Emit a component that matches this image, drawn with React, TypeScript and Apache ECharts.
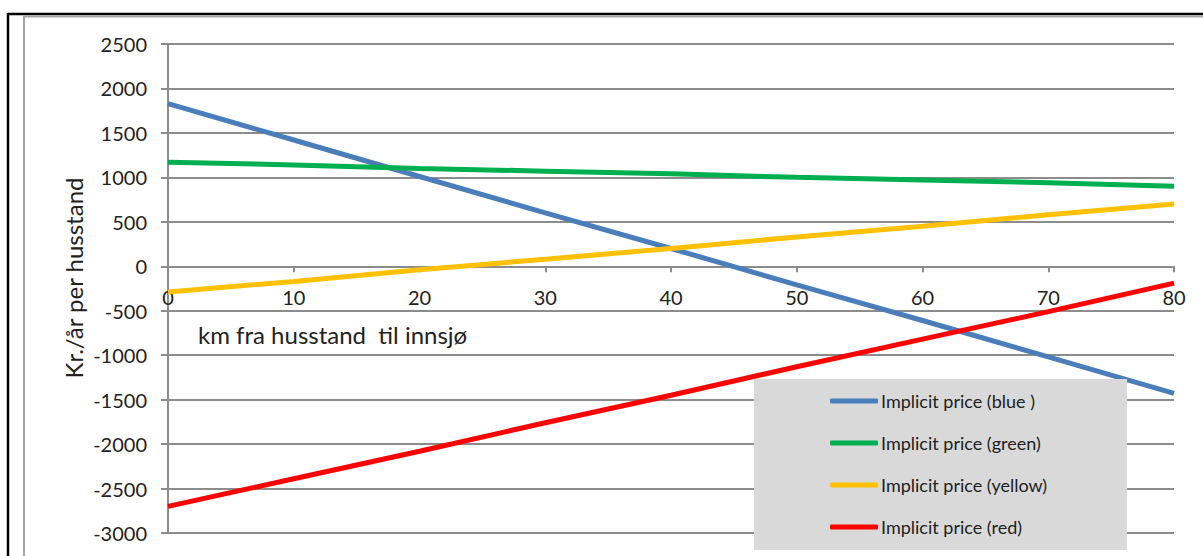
import React, { useEffect, useRef } from "react";
import * as echarts from "echarts";

const km = [0, 10, 20, 30, 40, 50, 60, 70, 80];
const blue = [1830, 1420, 1010, 600, 200, -210, -610, -1020, -1430];
const green = [1170, 1140, 1100, 1070, 1040, 1000, 970, 940, 900];
const yellow = [-290, -170, -40, 80, 200, 330, 450, 580, 700];
const red = [-2700, -2390, -2080, -1760, -1450, -1130, -820, -510, -190];

const seriesNames = [
  "Implicit price (blue )",
  "Implicit price (green)",
  "Implicit price (yellow)",
  "Implicit price (red)",
];
const seriesColors = ["#4a7ebb", "#00b050", "#ffc000", "#ff0000"];
const seriesValues = [blue, green, yellow, red];

const xTitle = "km fra husstand  til innsjø";
const yTitle = "Kr./år per husstand";

const FONT = "Lato, 'Open Sans', sans-serif";
const GRID = "#8c8c8c";

export default function App() {
  const ref = useRef<HTMLDivElement>(null);
  useEffect(() => {
    if (!ref.current) return;
    const chart = echarts.init(ref.current, undefined, { renderer: "svg" });
    const top = 44;
    const bottom = 23;
    const plotH = 556 - top - bottom;
    const zeroOffset = -(plotH * 3000) / 5500;
    chart.setOption({
      animation: false,
      backgroundColor: "#ffffff",
      textStyle: { fontFamily: FONT },
      grid: {
        left: 168,
        right: 29,
        top,
        bottom,
        containLabel: false,
        outerBoundsMode: "none",
      },
      xAxis: {
        type: "value",
        min: 0,
        max: 80,
        interval: 10,
        offset: zeroOffset,
        axisLine: { onZero: false, lineStyle: { color: GRID, width: 2 } },
        axisTick: { show: true, length: 6, lineStyle: { color: GRID, width: 2 } },
        axisLabel: { color: "#222", fontSize: 20, margin: 21, fontFamily: FONT },
        splitLine: { show: false },
      },
      yAxis: {
        type: "value",
        min: -3000,
        max: 2500,
        interval: 500,
        axisLine: { show: true, lineStyle: { color: GRID, width: 2 } },
        axisTick: { show: true, length: 7, lineStyle: { color: GRID, width: 2 } },
        axisLabel: {
          color: "#222",
          fontSize: 20,
          margin: 21,
          fontFamily: FONT,
          formatter: (v: number) => String(v),
        },
        splitLine: { show: true, lineStyle: { color: GRID, width: 2 } },
      },
      legend: {
        orient: "vertical",
        left: 830,
        top: 391,
        z: 20,
        padding: 0,
        itemWidth: 48,
        itemHeight: 5,
        itemGap: 22,
        icon: "roundRect",
        textStyle: { color: "#222", fontSize: 18, lineHeight: 20, fontFamily: FONT, padding: [0, 0, 0, -2] },
        data: seriesNames,
      },
      graphic: [
        { type: "line", shape: { x1: 8, y1: 14, x2: 1203, y2: 14 }, style: { stroke: "#000", lineWidth: 2.5 }, z: 30 },
        { type: "line", shape: { x1: 8, y1: 13, x2: 8, y2: 556 }, style: { stroke: "#000", lineWidth: 2.5 }, z: 30 },
        { type: "line", shape: { x1: 24, y1: 16.5, x2: 1203, y2: 16.5 }, style: { stroke: "#a6a6a6", lineWidth: 2 }, z: 30 },
        { type: "line", shape: { x1: 24, y1: 16, x2: 24, y2: 556 }, style: { stroke: "#a6a6a6", lineWidth: 2 }, z: 30 },
        { type: "rect", shape: { x: 754, y: 379, width: 373, height: 171 }, style: { fill: "#d9d9d9" }, z: 10 },
        {
          type: "text",
          x: 198,
          y: 334,
          style: { text: xTitle, fill: "#222", fontSize: 24, fontFamily: FONT, align: "left", verticalAlign: "middle" },
          z: 12,
        },
        {
          type: "text",
          x: 73,
          y: 278,
          rotation: Math.PI / 2,
          style: { text: yTitle, fill: "#222", fontSize: 24, fontFamily: FONT, align: "center", verticalAlign: "middle" },
          z: 12,
        },
      ],
      series: seriesValues.map((vals, i) => ({
        name: seriesNames[i],
        type: "line",
        data: km.map((k, j) => [k, vals[j]]),
        showSymbol: false,
        symbol: "none",
        lineStyle: { color: seriesColors[i], width: 5 },
        itemStyle: { color: seriesColors[i] },
        z: 3,
      })),
    });
    return () => chart.dispose();
  }, []);
  return (
    <div
      ref={ref}
      style={{ position: "fixed", left: 0, top: 0, width: 1203, height: 556 }}
    />
  );
}
